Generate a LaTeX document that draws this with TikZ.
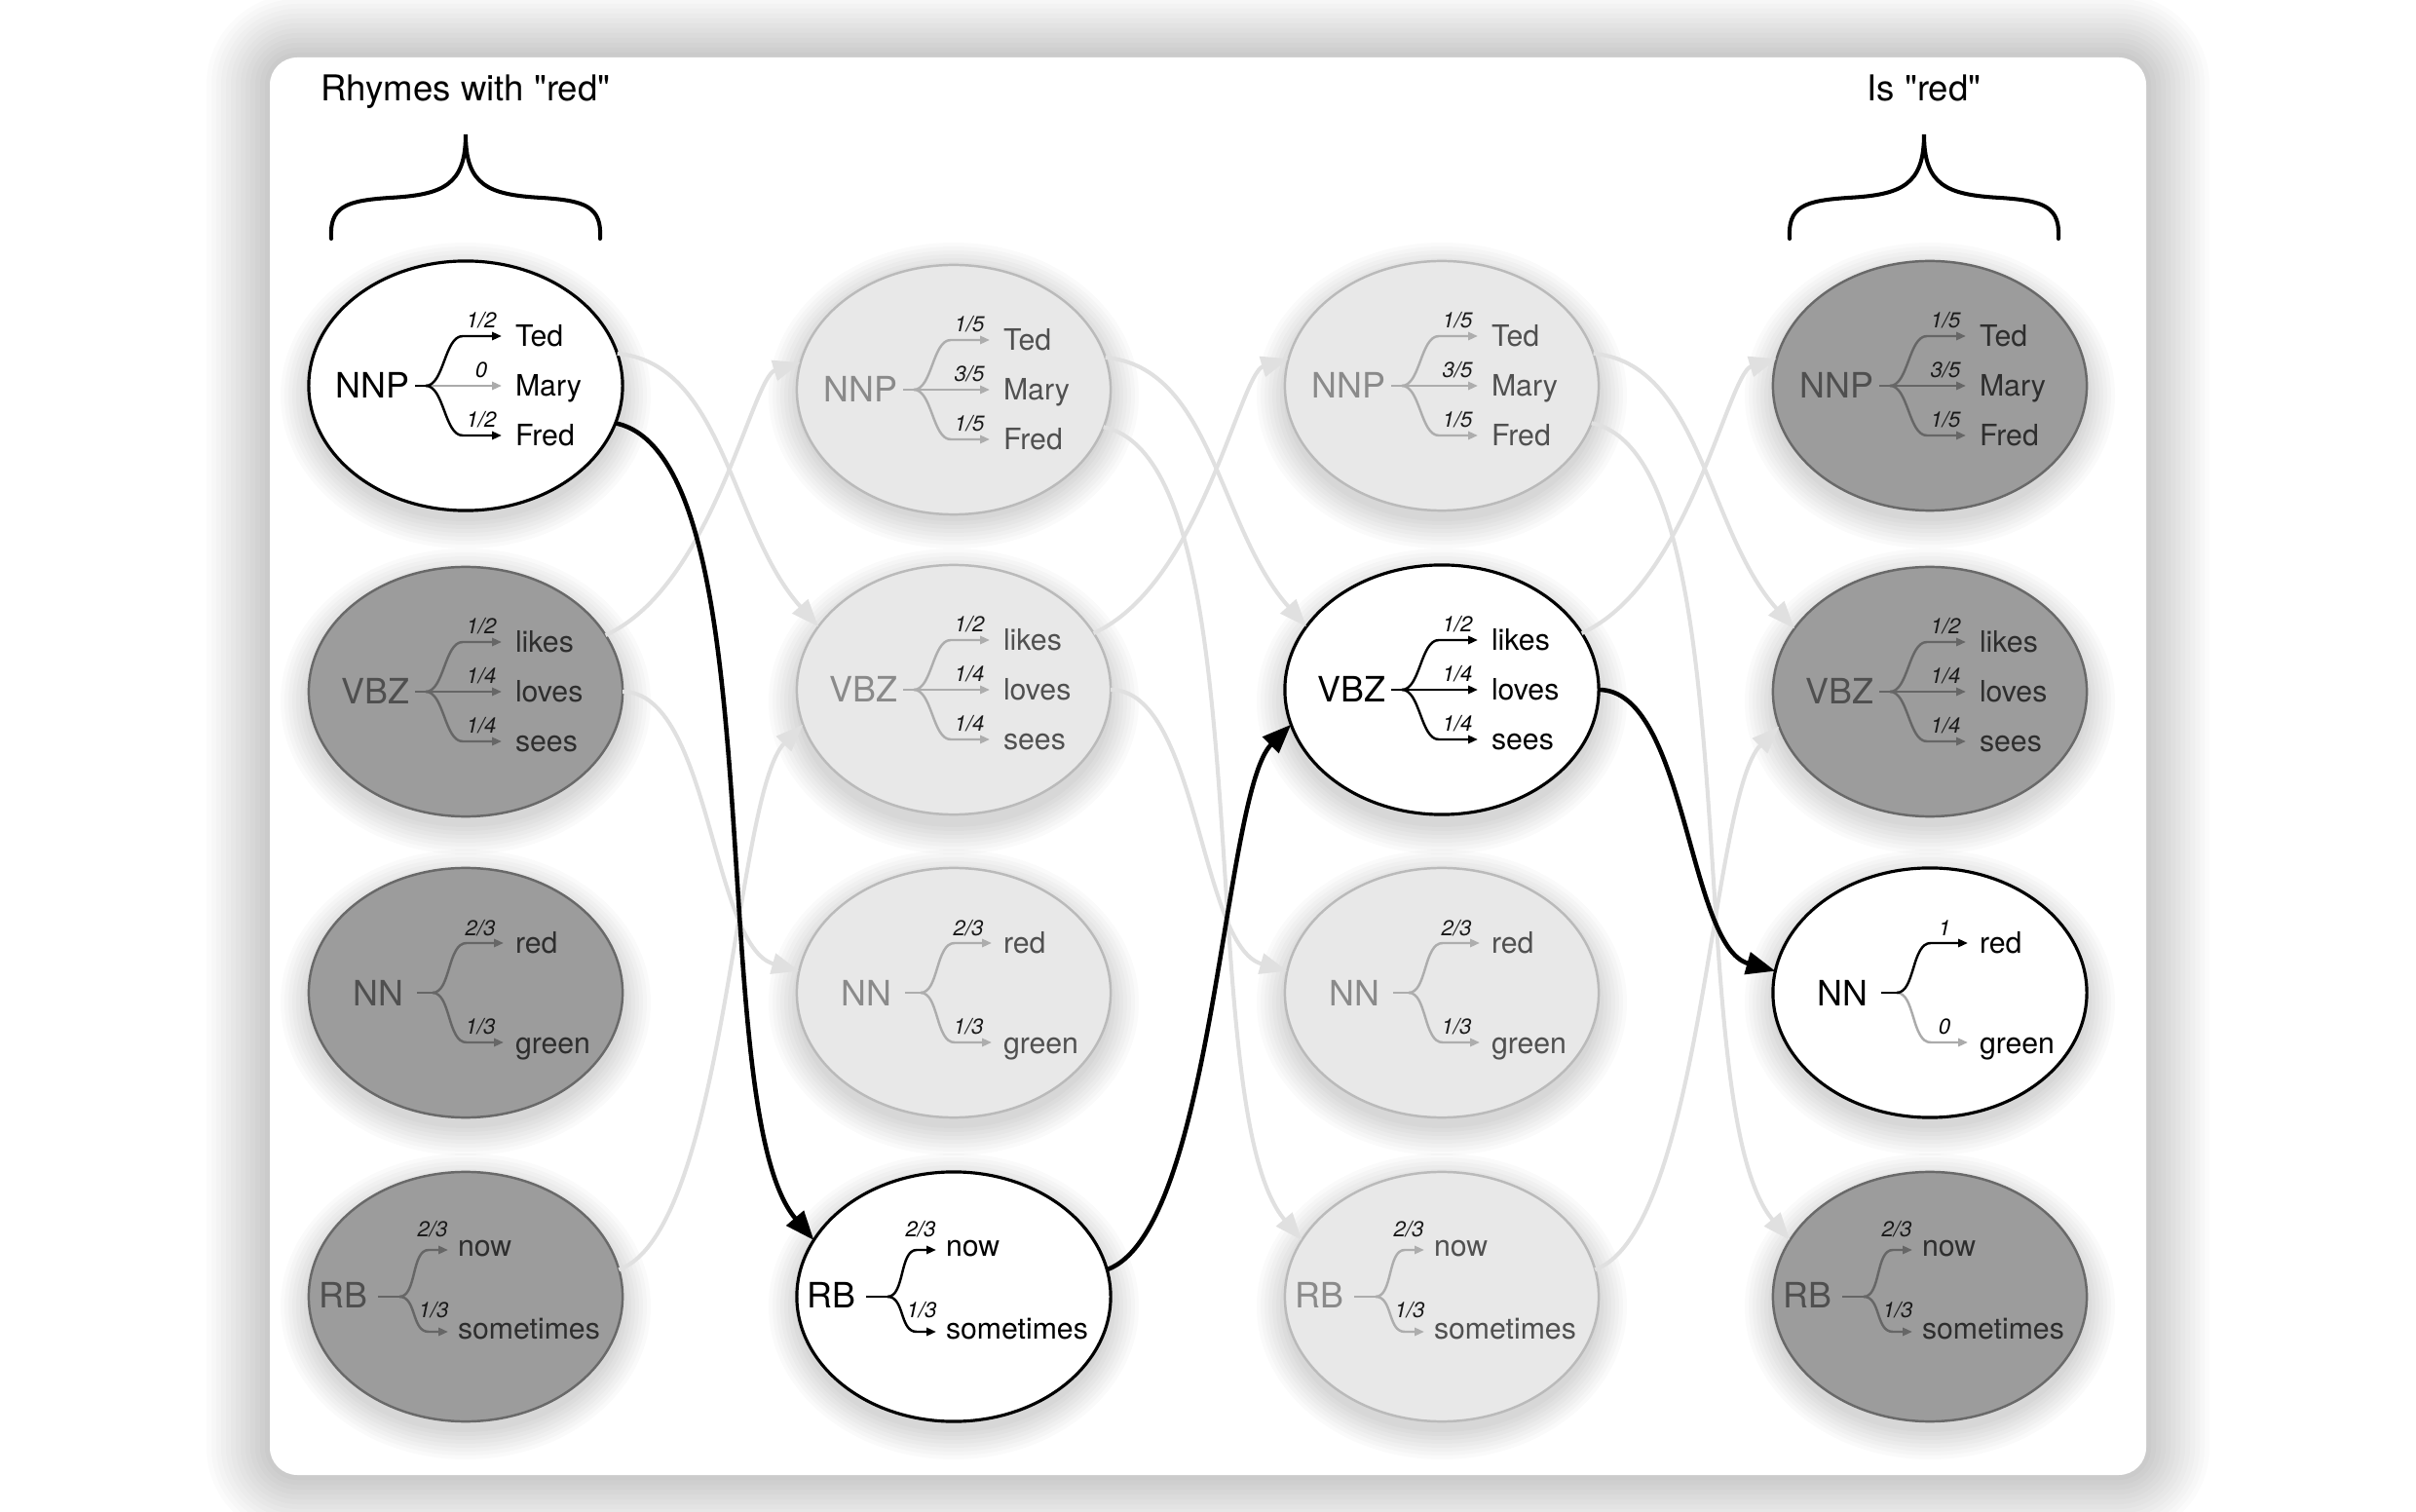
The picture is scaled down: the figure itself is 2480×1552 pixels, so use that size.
\documentclass[tikz,border=0pt]{standalone}
\usepackage{fontspec}
\setmainfont{TeX Gyre Heros}[Ligatures=TeXOff]
\usetikzlibrary{shapes.geometric,arrows.meta}

\definecolor{darkFill}{HTML}{9C9C9C}
\definecolor{darkLine}{HTML}{696969}
\definecolor{darkLab}{HTML}{4F4F4F}
\definecolor{darkWrd}{HTML}{2E2E2E}
\definecolor{darkBr}{HTML}{666666}
\definecolor{liteFill}{HTML}{E8E8E8}
\definecolor{liteLine}{HTML}{BABABA}
\definecolor{liteLab}{HTML}{8A8A8A}
\definecolor{liteWrd}{HTML}{505050}
\definecolor{liteBr}{HTML}{ADADAD}
\definecolor{zeroC}{HTML}{ABABAB}
\definecolor{gline}{HTML}{E0E0E0}

\newcommand\kon{\colorlet{labc}{black}\colorlet{wrdc}{black}\colorlet{brc}{black}\colorlet{prbc}{black}}
\newcommand\klite{\colorlet{labc}{liteLab}\colorlet{wrdc}{liteWrd}\colorlet{brc}{liteBr}\colorlet{prbc}{black!90}}
\newcommand\kdark{\colorlet{labc}{darkLab}\colorlet{wrdc}{darkWrd}\colorlet{brc}{darkBr}\colorlet{prbc}{black!90}}
\def\zerostr{0}
\newcommand\brcolor[2]{\def\tmpa{#2}\ifx\tmpa\zerostr\colorlet{#1}{zeroC}\else\colorlet{#1}{brc}\fi}

% three-branch tree: name, label, w1, w2, w3, p1, p2, p3
\newcommand\threetree[8]{%
  \brcolor{ba}{#6}\brcolor{bb}{#7}\brcolor{bc}{#8}%
  \node[lab, anchor=base east] (#1-lab) at (-58,13) {#2};
  \draw[brl, bb] (-41,0) -- (37,0);
  \draw[brl, ba] (-41,0) .. controls (-22,0) and (-22,-51) .. (-3,-51) -- (37,-51);
  \draw[brl, bc] (-41,0) .. controls (-22,0) and (-22,51) .. (-3,51) -- (37,51);
  \draw[line width=0.7pt, brc] (-52,0) -- (-40,0);
  \node[prb, anchor=base] (#1-p1) at (16,-59) {#6};
  \node[prb, anchor=base] (#1-p2) at (16,-8) {#7};
  \node[prb, anchor=base] (#1-p3) at (16,43) {#8};
  \node[wrd, anchor=base west] (#1-w1) at (51,-40) {#3};
  \node[wrd, anchor=base west] (#1-w2) at (51,11) {#4};
  \node[wrd, anchor=base west] (#1-w3) at (51,62) {#5};
}
% NN style two-branch tree: name, label, w1, w2, p1, p2
\newcommand\nntree[6]{%
  \brcolor{ba}{#5}\brcolor{bc}{#6}%
  \node[lab, anchor=base east] (#1-lab) at (-64,14) {#2};
  \draw[brl, bc] (-34,0) .. controls (-15,0) and (-19,51) .. (1,51) -- (39,51);
  \draw[brl, ba] (-34,0) .. controls (-15,0) and (-19,-51) .. (1,-51) -- (39,-51);
  \draw[line width=0.7pt, brc] (-50,0) -- (-33,0);
  \node[prb, anchor=base] (#1-p1) at (15,-58) {#5};
  \node[prb, anchor=base] (#1-p2) at (15,43) {#6};
  \node[wrd, anchor=base west] (#1-w1) at (51,-40) {#3};
  \node[wrd, anchor=base west] (#1-w2) at (51,62) {#4};
}
% RB style two-branch tree: name, label, w1, w2, p1, p2
\newcommand\rbtree[6]{%
  \node[lab, anchor=base east] (#1-lab) at (-101,12) {#2};
  \draw[brl, brc] (-68,0) .. controls (-50,0) and (-56,36) .. (-38,36) -- (-18,36);
  \draw[brl, brc] (-68,0) .. controls (-50,0) and (-56,-48) .. (-38,-48) -- (-18,-48);
  \draw[line width=0.7pt, brc] (-90,0) -- (-67,0);
  \node[prb, anchor=base] (#1-p1) at (-34,-62) {#5};
  \node[prb, anchor=base] (#1-p2) at (-33,22) {#6};
  \node[wrd, anchor=base west] (#1-w1) at (-8,-41) {#3};
  \node[wrd, anchor=base west] (#1-w2) at (-8,43) {#4};
}

\begin{document}
\begin{tikzpicture}[x=0.01cm,y=-0.01cm,
  every node/.style={inner sep=0pt, outer sep=0pt},
  ell/.style={ellipse, minimum width=3.22cm, minimum height=2.56cm},
  onnode/.style={ell, fill=white, draw=black, line width=0.9pt},
  litenode/.style={ell, fill=liteFill, draw=liteLine, line width=0.7pt},
  darknode/.style={ell, fill=darkFill, draw=darkLine, line width=0.7pt},
  lab/.style={font=\fontsize{10.2}{12}\selectfont, text=labc},
  wrd/.style={font=\fontsize{8.6}{10}\selectfont, text=wrdc},
  prb/.style={font=\fontsize{6.3}{7}\selectfont\itshape, text=prbc},
  brl/.style={line width=0.7pt, -{Triangle[length=2.8pt,width=2.3pt]}},
  hdr/.style={font=\fontsize{10.4}{12}\selectfont, text=black},
  brace/.style={draw=black, line width=1.15pt, line cap=round},
  gcon/.style={draw=gline, line width=1.15pt, -{Triangle[length=8pt,width=6pt]}},
  bcon/.style={draw=black, line width=1.3pt, -{Triangle[length=8.5pt,width=6.5pt]}}
]
\useasboundingbox (0,0) rectangle (2480,1552);
\fill[white] (0,0) rectangle (2480,1552);

% panel shadow
\foreach \k in {1,...,13}{
  \pgfmathsetmacro\rr{(28+5*\k)*0.2845}
  \fill[black, opacity=0.016, rounded corners=\rr pt] (277-5*\k,59-5*\k) rectangle (2203+5*\k,1514+5*\k);
}
\fill[white, rounded corners=8pt] (277,59) rectangle (2203,1514);

% node shadows
\foreach \x in {478,979,1480,1981}{
  \foreach \y in {396,710,1019,1331}{
    \foreach \k in {1,...,8}{
      \fill[black, opacity=0.018] (\x,\y+10) ellipse [x radius=158+4*\k, y radius=125+4*\k];
    }
  }
}

% headers and braces
\node[hdr, anchor=base] (h1) at (478,104) {Rhymes with "red"};
\node[hdr, anchor=base] (h2) at (1975,104) {Is "red"};
\draw[brace] (340,245) .. controls (338,212) and (355,206) .. (400,203)
  .. controls (455,200) and (478,190) .. (478,138)
  .. controls (478,190) and (501,200) .. (556,203)
  .. controls (601,206) and (618,212) .. (616,245);
\begin{scope}[shift={(1497,0)}]
\draw[brace] (340,245) .. controls (338,212) and (355,206) .. (400,203)
  .. controls (455,200) and (478,190) .. (478,138)
  .. controls (478,190) and (501,200) .. (556,203)
  .. controls (601,206) and (618,212) .. (616,245);
\end{scope}

% column 1
\begin{scope}[shift={(478,396)}]\kon
  \node[onnode] (n11) at (0,0) {};
  \threetree{n11}{NNP}{Ted}{Mary}{Fred}{1/2}{0}{1/2}
\end{scope}
\begin{scope}[shift={(478,710)}]\kdark
  \node[darknode] (n12) at (0,0) {};
  \threetree{n12}{VBZ}{likes}{loves}{sees}{1/2}{1/4}{1/4}
\end{scope}
\begin{scope}[shift={(478,1019)}]\kdark
  \node[darknode] (n13) at (0,0) {};
  \nntree{n13}{NN}{red}{green}{2/3}{1/3}
\end{scope}
\begin{scope}[shift={(478,1331)}]\kdark
  \node[darknode] (n14) at (0,0) {};
  \rbtree{n14}{RB}{now}{sometimes}{2/3}{1/3}
\end{scope}

% column 2
\begin{scope}[shift={(979,400)}]\klite
  \node[litenode] (n21) at (0,0) {};
  \threetree{n21}{NNP}{Ted}{Mary}{Fred}{1/5}{3/5}{1/5}
\end{scope}
\begin{scope}[shift={(979,708)}]\klite
  \node[litenode] (n22) at (0,0) {};
  \threetree{n22}{VBZ}{likes}{loves}{sees}{1/2}{1/4}{1/4}
\end{scope}
\begin{scope}[shift={(979,1019)}]\klite
  \node[litenode] (n23) at (0,0) {};
  \nntree{n23}{NN}{red}{green}{2/3}{1/3}
\end{scope}
\begin{scope}[shift={(979,1331)}]\kon
  \node[onnode] (n24) at (0,0) {};
  \rbtree{n24}{RB}{now}{sometimes}{2/3}{1/3}
\end{scope}

% column 3
\begin{scope}[shift={(1480,396)}]\klite
  \node[litenode] (n31) at (0,0) {};
  \threetree{n31}{NNP}{Ted}{Mary}{Fred}{1/5}{3/5}{1/5}
\end{scope}
\begin{scope}[shift={(1480,708)}]\kon
  \node[onnode] (n32) at (0,0) {};
  \threetree{n32}{VBZ}{likes}{loves}{sees}{1/2}{1/4}{1/4}
\end{scope}
\begin{scope}[shift={(1480,1019)}]\klite
  \node[litenode] (n33) at (0,0) {};
  \nntree{n33}{NN}{red}{green}{2/3}{1/3}
\end{scope}
\begin{scope}[shift={(1480,1331)}]\klite
  \node[litenode] (n34) at (0,0) {};
  \rbtree{n34}{RB}{now}{sometimes}{2/3}{1/3}
\end{scope}

% column 4
\begin{scope}[shift={(1981,396)}]\kdark
  \node[darknode] (n41) at (0,0) {};
  \threetree{n41}{NNP}{Ted}{Mary}{Fred}{1/5}{3/5}{1/5}
\end{scope}
\begin{scope}[shift={(1981,710)}]\kdark
  \node[darknode] (n42) at (0,0) {};
  \threetree{n42}{VBZ}{likes}{loves}{sees}{1/2}{1/4}{1/4}
\end{scope}
\begin{scope}[shift={(1981,1019)}]\kon
  \node[onnode] (n43) at (0,0) {};
  \nntree{n43}{NN}{red}{green}{1}{0}
\end{scope}
\begin{scope}[shift={(1981,1331)}]\kdark
  \node[darknode] (n44) at (0,0) {};
  \rbtree{n44}{RB}{now}{sometimes}{2/3}{1/3}
\end{scope}

% gray connectors
\draw[gcon] (n11.12) .. controls +(110,10) and +(-90,-100) .. (n22.155);
\draw[gcon] (n12.22) .. controls +(110,-50) and +(-50,15) .. (n21.170);
\draw[gcon] (n12.0) .. controls +(90,0) and +(-90,-25) .. (n23.172);
\draw[gcon] (n14.10) .. controls +(110,-40) and +(-70,70) .. (n22.-167);

\draw[gcon] (n21.12) .. controls +(110,10) and +(-90,-100) .. (n32.155);
\draw[gcon] (n21.-14) .. controls +(167,35) and +(-115,-135) .. (n34.158);
\draw[gcon] (n22.22) .. controls +(110,-50) and +(-50,15) .. (n31.170);
\draw[gcon] (n22.0) .. controls +(90,0) and +(-90,-25) .. (n33.172);

\draw[gcon] (n31.12) .. controls +(110,10) and +(-90,-100) .. (n42.155);
\draw[gcon] (n31.-14) .. controls +(167,35) and +(-115,-135) .. (n44.158);
\draw[gcon] (n32.22) .. controls +(110,-50) and +(-50,15) .. (n41.170);
\draw[gcon] (n34.10) .. controls +(110,-40) and +(-70,70) .. (n42.-167);

% black path
\draw[bcon] (n11.-14) .. controls +(167,35) and +(-115,-135) .. (n24.158);
\draw[bcon] (n24.10) .. controls +(110,-40) and +(-70,70) .. (n32.-167);
\draw[bcon] (n32.0) .. controls +(90,0) and +(-90,-25) .. (n43.172);
\end{tikzpicture}
\end{document}
